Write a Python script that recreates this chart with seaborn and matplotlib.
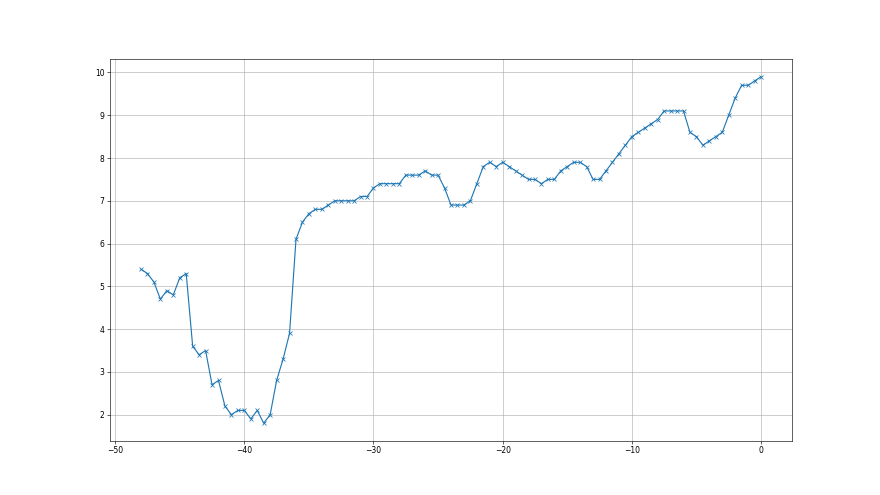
import numpy as np
import matplotlib
matplotlib.use("Agg")
import matplotlib.pyplot as plt
import seaborn as sns

# values read every 0.5 from -48 to 0
offsets = np.arange(-48, 0.01, 0.5)
values = [
    5.4, 5.3, 5.1, 4.7, 4.9, 4.8, 5.2, 5.3, 3.6, 3.4,
    3.5, 2.7, 2.8, 2.2, 2.0, 2.1, 2.1, 1.9, 2.1, 1.8,
    2.0, 2.8, 3.3, 3.9, 6.1, 6.5, 6.7, 6.8, 6.8, 6.9,
    7.0, 7.0, 7.0, 7.0, 7.1, 7.1, 7.3, 7.4, 7.4, 7.4,
    7.4, 7.6, 7.6, 7.6, 7.7, 7.6, 7.6, 7.3, 6.9, 6.9,
    6.9, 7.0, 7.4, 7.8, 7.9, 7.8, 7.9, 7.8, 7.7, 7.6,
    7.5, 7.5, 7.4, 7.5, 7.5, 7.7, 7.8, 7.9, 7.9, 7.8,
    7.5, 7.5, 7.7, 7.9, 8.1, 8.3, 8.5, 8.6, 8.7, 8.8,
    8.9, 9.1, 9.1, 9.1, 9.1, 8.6, 8.5, 8.3, 8.4, 8.5,
    8.6, 9.0, 9.4, 9.7, 9.7, 9.8, 9.9,
]

fig, ax = plt.subplots(figsize=(16, 9), dpi=55)
sns.lineplot(
    x=offsets,
    y=values,
    ax=ax,
    color="C0",
    marker="x",
    markersize=6,
    markeredgecolor="C0",
    markeredgewidth=1,
    linewidth=1.5,
)
ax.grid(True)
ax.set_xticks([-50, -40, -30, -20, -10, 0])

fig.savefig("out.png", dpi=55)
plt.close(fig)
